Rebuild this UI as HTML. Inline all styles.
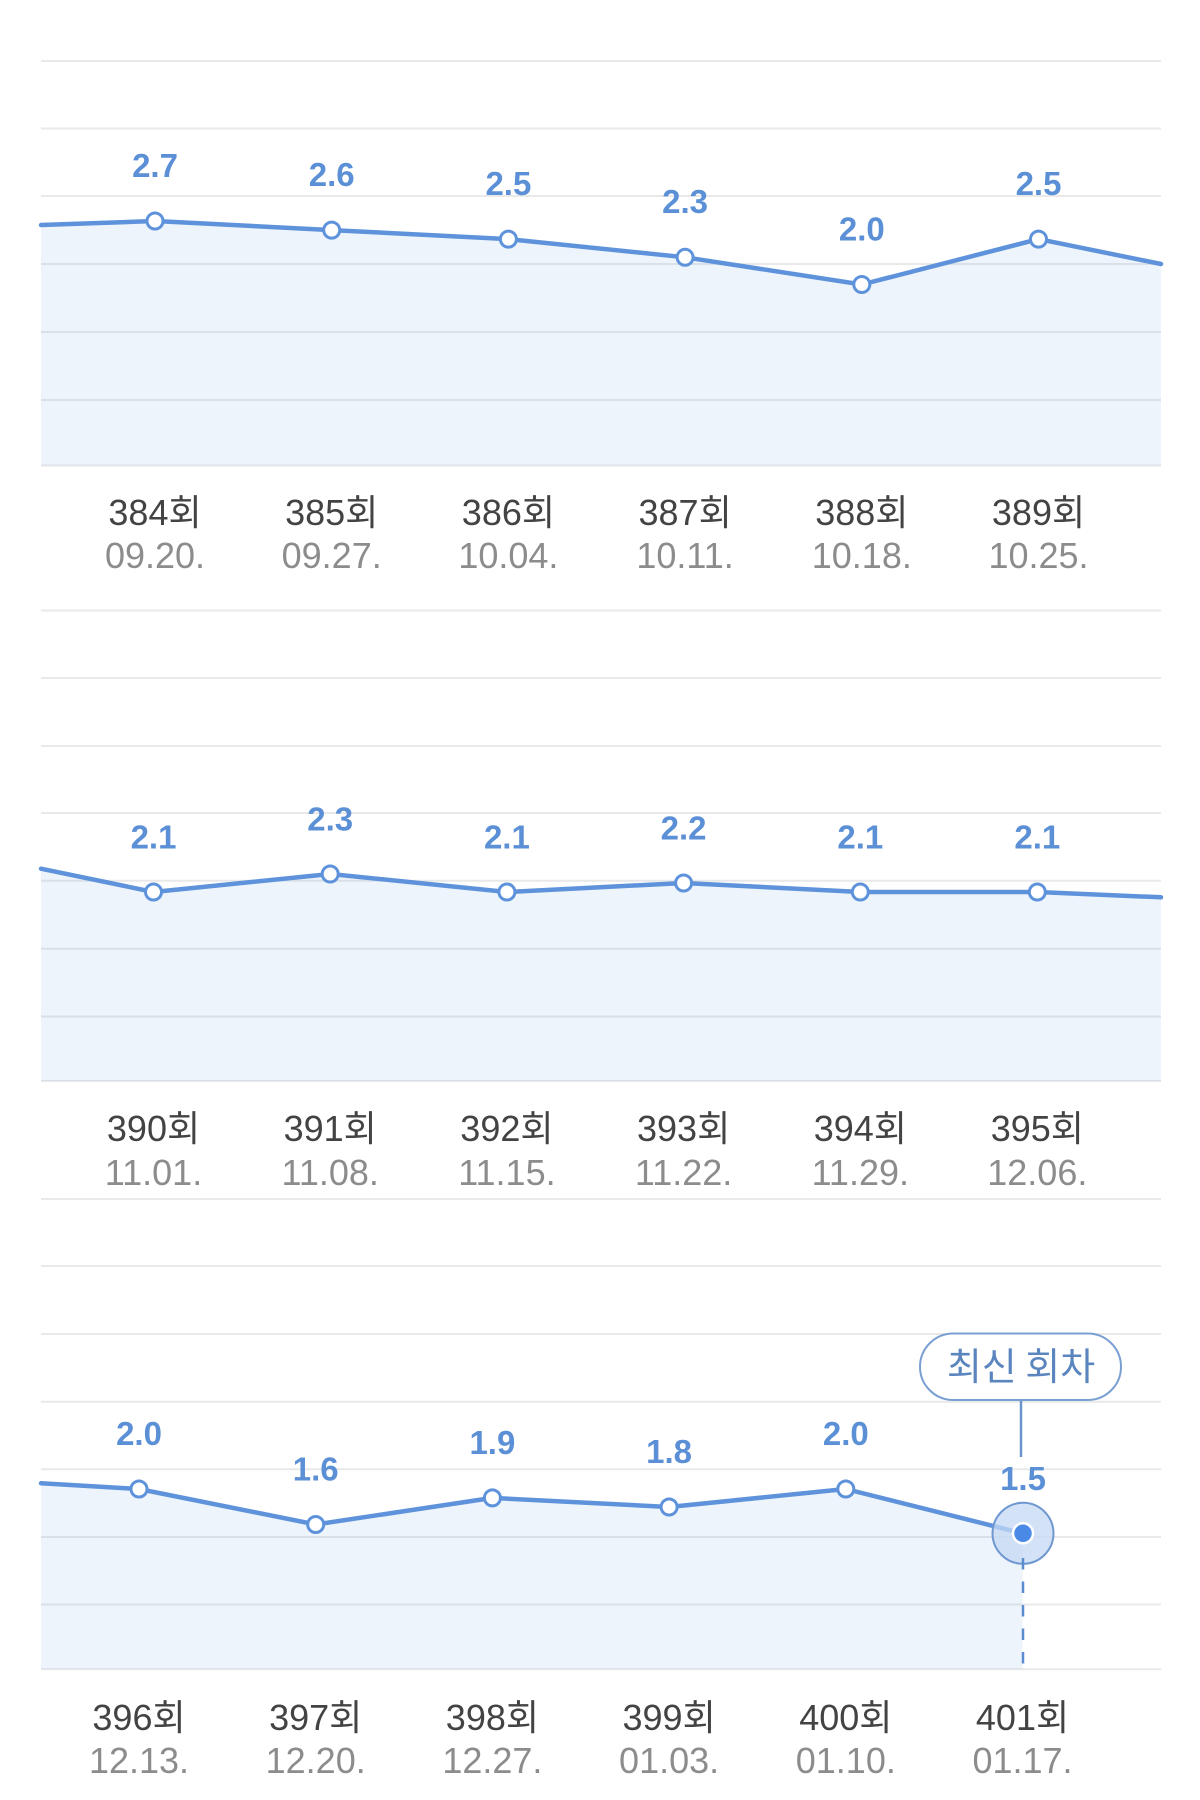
<!DOCTYPE html>
<html>
<head>
<meta charset="utf-8">
<style>
  html, body { margin:0; padding:0; background:#ffffff; }
  body { width:1200px; height:1800px; overflow:hidden; }
  svg { display:block; }
  .v { font-family:"Liberation Sans","Noto Sans CJK KR",sans-serif; font-weight:bold; font-size:33px; fill:#5b8fd6; text-anchor:middle; }
  .r { font-family:"Liberation Sans","Noto Sans CJK KR",sans-serif; font-size:36px; fill:#434343; text-anchor:middle; }
  .d { font-family:"Liberation Sans","Noto Sans CJK KR",sans-serif; font-size:36px; fill:#8c8c8c; text-anchor:middle; }
  .g { stroke:#e9e9e9; stroke-width:2; }
  .ln { fill:none; stroke:#5e93dc; stroke-width:4.5; stroke-linejoin:round; stroke-linecap:round; }
  .fl { fill:#5e93dc; fill-opacity:0.105; stroke:none; }
  .pt { fill:#ffffff; stroke:#5e93dc; stroke-width:3; }
</style>
</head>
<body>
<svg width="1200" height="1800" viewBox="0 0 1200 1800" xmlns="http://www.w3.org/2000/svg">
  <rect x="0" y="0" width="1200" height="1800" fill="#ffffff"/>

  <!-- ===== gridlines ===== -->
  <g class="g">
    <line x1="41" x2="1161" y1="61" y2="61"/>
    <line x1="41" x2="1161" y1="128.5" y2="128.5"/>
    <line x1="41" x2="1161" y1="196" y2="196"/>
    <line x1="41" x2="1161" y1="264" y2="264"/>
    <line x1="41" x2="1161" y1="332" y2="332"/>
    <line x1="41" x2="1161" y1="400" y2="400"/>
    <line x1="41" x2="1161" y1="465.5" y2="465.5"/>

    <line x1="41" x2="1161" y1="610.5" y2="610.5"/>
    <line x1="41" x2="1161" y1="678" y2="678"/>
    <line x1="41" x2="1161" y1="746" y2="746"/>
    <line x1="41" x2="1161" y1="813" y2="813"/>
    <line x1="41" x2="1161" y1="880.7" y2="880.7"/>
    <line x1="41" x2="1161" y1="948.7" y2="948.7"/>
    <line x1="41" x2="1161" y1="1016.5" y2="1016.5"/>
    <line x1="41" x2="1161" y1="1081" y2="1081"/>

    <line x1="41" x2="1161" y1="1199" y2="1199"/>
    <line x1="41" x2="1161" y1="1266" y2="1266"/>
    <line x1="41" x2="1161" y1="1334" y2="1334"/>
    <line x1="41" x2="1161" y1="1401.7" y2="1401.7"/>
    <line x1="41" x2="1161" y1="1469.3" y2="1469.3"/>
    <line x1="41" x2="1161" y1="1537" y2="1537"/>
    <line x1="41" x2="1161" y1="1604.5" y2="1604.5"/>
    <line x1="41" x2="1161" y1="1669.3" y2="1669.3"/>
  </g>

  <!-- ===== chart 1 ===== -->
  <polygon class="fl" points="41,225 155,221 331.7,230.1 508.4,239.1 685.1,257.3 861.8,284.5 1038.5,239.1 1161,264 1161,465.5 41,465.5"/>
  <polyline class="ln" points="41,225 155,221 331.7,230.1 508.4,239.1 685.1,257.3 861.8,284.5 1038.5,239.1 1161,264"/>
  <circle class="pt" cx="155" cy="221" r="8"/>
  <circle class="pt" cx="331.7" cy="230.1" r="8"/>
  <circle class="pt" cx="508.4" cy="239.1" r="8"/>
  <circle class="pt" cx="685.1" cy="257.3" r="8"/>
  <circle class="pt" cx="861.8" cy="284.5" r="8"/>
  <circle class="pt" cx="1038.5" cy="239.1" r="8"/>
  <text class="v" x="155" y="177">2.7</text>
  <text class="v" x="331.7" y="186">2.6</text>
  <text class="v" x="508.4" y="195">2.5</text>
  <text class="v" x="685.1" y="213">2.3</text>
  <text class="v" x="861.8" y="240.5">2.0</text>
  <text class="v" x="1038.5" y="195">2.5</text>
  <text class="r" x="155" y="525">384회</text>
  <text class="r" x="331.7" y="525">385회</text>
  <text class="r" x="508.4" y="525">386회</text>
  <text class="r" x="685.1" y="525">387회</text>
  <text class="r" x="861.8" y="525">388회</text>
  <text class="r" x="1038.5" y="525">389회</text>
  <text class="d" x="155" y="568">09.20.</text>
  <text class="d" x="331.7" y="568">09.27.</text>
  <text class="d" x="508.4" y="568">10.04.</text>
  <text class="d" x="685.1" y="568">10.11.</text>
  <text class="d" x="861.8" y="568">10.18.</text>
  <text class="d" x="1038.5" y="568">10.25.</text>

  <!-- ===== chart 2 ===== -->
  <polygon class="fl" points="41,868.7 153.5,892 330.2,874 506.9,892 683.6,883 860.3,892 1037.3,892 1161,897.3 1161,1081 41,1081"/>
  <polyline class="ln" points="41,868.7 153.5,892 330.2,874 506.9,892 683.6,883 860.3,892 1037.3,892 1161,897.3"/>
  <circle class="pt" cx="153.5" cy="892" r="8"/>
  <circle class="pt" cx="330.2" cy="874" r="8"/>
  <circle class="pt" cx="506.9" cy="892" r="8"/>
  <circle class="pt" cx="683.6" cy="883" r="8"/>
  <circle class="pt" cx="860.3" cy="892" r="8"/>
  <circle class="pt" cx="1037.3" cy="892" r="8"/>
  <text class="v" x="153.5" y="848.3">2.1</text>
  <text class="v" x="330.2" y="830.3">2.3</text>
  <text class="v" x="506.9" y="848.3">2.1</text>
  <text class="v" x="683.6" y="839.3">2.2</text>
  <text class="v" x="860.3" y="848.3">2.1</text>
  <text class="v" x="1037.3" y="848.3">2.1</text>
  <text class="r" x="153.5" y="1141">390회</text>
  <text class="r" x="330.2" y="1141">391회</text>
  <text class="r" x="506.9" y="1141">392회</text>
  <text class="r" x="683.6" y="1141">393회</text>
  <text class="r" x="860.3" y="1141">394회</text>
  <text class="r" x="1037.3" y="1141">395회</text>
  <text class="d" x="153.5" y="1185">11.01.</text>
  <text class="d" x="330.2" y="1185">11.08.</text>
  <text class="d" x="506.9" y="1185">11.15.</text>
  <text class="d" x="683.6" y="1185">11.22.</text>
  <text class="d" x="860.3" y="1185">11.29.</text>
  <text class="d" x="1037.3" y="1185">12.06.</text>

  <!-- ===== chart 3 ===== -->
  <polygon class="fl" points="41,1483.3 139,1489 315.7,1524.5 492.4,1497.9 669.1,1507 845.8,1489 1022.5,1533.3 1022.5,1669.3 41,1669.3"/>
  <polyline class="ln" points="41,1483.3 139,1489 315.7,1524.5 492.4,1497.9 669.1,1507 845.8,1489 1022.5,1533.3"/>
  <circle class="pt" cx="139" cy="1489" r="8"/>
  <circle class="pt" cx="315.7" cy="1524.5" r="8"/>
  <circle class="pt" cx="492.4" cy="1497.9" r="8"/>
  <circle class="pt" cx="669.1" cy="1507" r="8"/>
  <circle class="pt" cx="845.8" cy="1489" r="8"/>
  <text class="v" x="139" y="1445">2.0</text>
  <text class="v" x="315.7" y="1480.5">1.6</text>
  <text class="v" x="492.4" y="1453.9">1.9</text>
  <text class="v" x="669.1" y="1463">1.8</text>
  <text class="v" x="845.8" y="1445">2.0</text>
  <text class="v" x="1023" y="1490">1.5</text>

  <!-- latest point -->
  <circle cx="1023" cy="1533.3" r="30.5" fill="#c4d8f4" fill-opacity="0.75" stroke="#6f98d1" stroke-width="2"/>
  <circle cx="1023" cy="1533.3" r="10" fill="#4a8ae6" stroke="#ffffff" stroke-width="2.5"/>
  <line x1="1023" x2="1023" y1="1558" y2="1665" stroke="#5b8cd0" stroke-width="2.5" stroke-dasharray="11.5 12"/>

  <!-- badge -->
  <line x1="1021" x2="1021" y1="1400" y2="1457" stroke="#6d95cd" stroke-width="2.5"/>
  <rect x="920" y="1333.5" width="201" height="66.5" rx="33.25" ry="33.25" fill="#ffffff" stroke="#7a9fd3" stroke-width="2"/>
  <text x="1021" y="1380" text-anchor="middle" font-family="'Noto Sans CJK KR','Liberation Sans',sans-serif" font-size="38" fill="#5a85be">최신 회차</text>

  <text class="r" x="139" y="1730">396회</text>
  <text class="r" x="315.7" y="1730">397회</text>
  <text class="r" x="492.4" y="1730">398회</text>
  <text class="r" x="669.1" y="1730">399회</text>
  <text class="r" x="845.8" y="1730">400회</text>
  <text class="r" x="1022.5" y="1730">401회</text>
  <text class="d" x="139" y="1773">12.13.</text>
  <text class="d" x="315.7" y="1773">12.20.</text>
  <text class="d" x="492.4" y="1773">12.27.</text>
  <text class="d" x="669.1" y="1773">01.03.</text>
  <text class="d" x="845.8" y="1773">01.10.</text>
  <text class="d" x="1022.5" y="1773">01.17.</text>
</svg>
</body>
</html>
